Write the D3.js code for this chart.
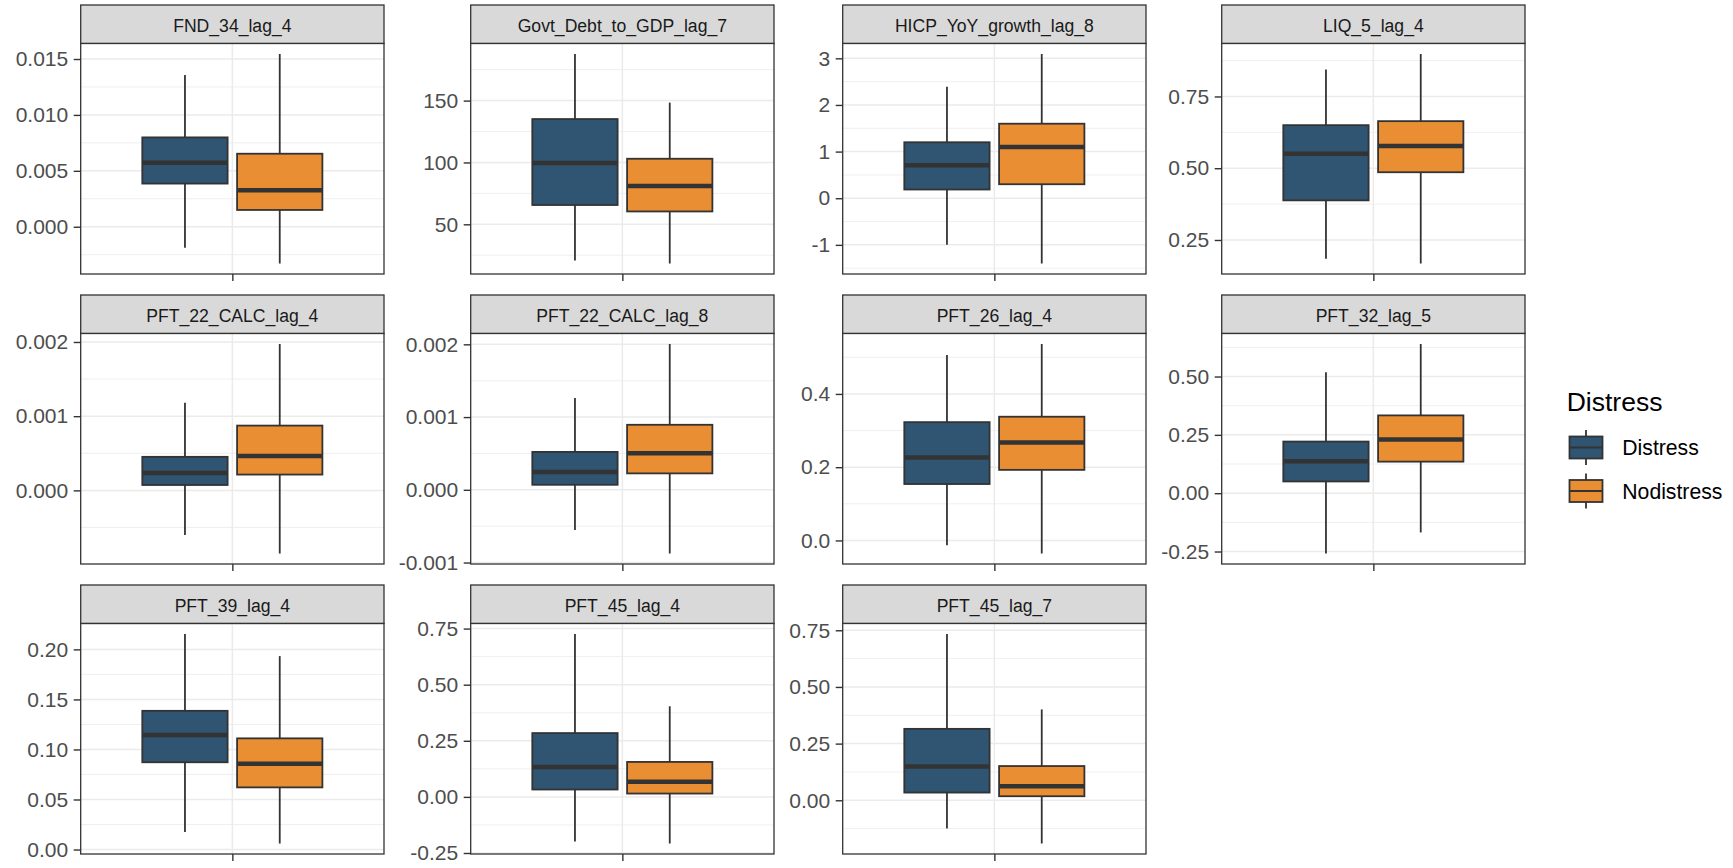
<!DOCTYPE html>
<html><head><meta charset="utf-8">
<script src="https://cdn.jsdelivr.net/npm/d3@7"></script>
<style>
html,body{margin:0;padding:0;background:#fff;}
svg{display:block;font-family:"Liberation Sans",Arial,sans-serif;}
</style></head><body>
<svg id="chart" width="1733" height="868"></svg>
<script>
// Facet titles, in panel order (4 columns, wrapped)
const panelNames = ["FND_34_lag_4","Govt_Debt_to_GDP_lag_7","HICP_YoY_growth_lag_8","LIQ_5_lag_4",
  "PFT_22_CALC_lag_4","PFT_22_CALC_lag_8","PFT_26_lag_4","PFT_32_lag_5",
  "PFT_39_lag_4","PFT_45_lag_4","PFT_45_lag_7"];
const groups = ["Distress","Nodistress"];
const groupColors = ["#2F5572","#E98E33"];

// Box statistics per panel: [lower whisker, Q1, median, Q3, upper whisker]
const distressStats = [
  [-0.00189, 0.00386, 0.00572, 0.00799, 0.01356],
  [20.7, 65.6, 99.5, 135.1, 187.7],
  [-1.0, 0.187, 0.706, 1.20, 2.39],
  [0.185, 0.388, 0.550, 0.650, 0.844],
  [-0.000602, 0.0000724, 0.000235, 0.000452, 0.00118],
  [-0.000553, 0.0000691, 0.000244, 0.000521, 0.001263],
  [-0.0128, 0.154, 0.2265, 0.323, 0.506],
  [-0.2586, 0.0503, 0.1366, 0.2212, 0.5187],
  [0.0174, 0.0872, 0.1144, 0.1386, 0.2154],
  [-0.1988, 0.0329, 0.133, 0.2844, 0.726],
  [-0.1243, 0.034, 0.1494, 0.3151, 0.7337]
];
const nodistressStats = [
  [-0.00329, 0.00150, 0.00326, 0.00653, 0.01545],
  [18.3, 60.4, 81.0, 103.0, 148.4],
  [-1.40, 0.30, 1.10, 1.598, 3.093],
  [0.168, 0.486, 0.577, 0.664, 0.898],
  [-0.000851, 0.000213, 0.000462, 0.000873, 0.001973],
  [-0.000876, 0.000226, 0.000502, 0.000894, 0.002005],
  [-0.0357, 0.1927, 0.2677, 0.3378, 0.5364],
  [-0.1683, 0.1352, 0.2299, 0.3334, 0.6395],
  [0.006, 0.0621, 0.0856, 0.1111, 0.1933],
  [-0.2078, 0.0149, 0.0673, 0.1558, 0.404],
  [-0.1908, 0.0178, 0.0621, 0.151, 0.4009]
];

// Y-axis tick labels for each panel
const tickLabels = [
  ["0.000","0.005","0.010","0.015"],
  ["50","100","150"],
  ["-1","0","1","2","3"],
  ["0.25","0.50","0.75"],
  ["0.000","0.001","0.002"],
  ["-0.001","0.000","0.001","0.002"],
  ["0.0","0.2","0.4"],
  ["-0.25","0.00","0.25","0.50"],
  ["0.00","0.05","0.10","0.15","0.20"],
  ["-0.25","0.00","0.25","0.50","0.75"],
  ["0.00","0.25","0.50","0.75"]
];

const svg = d3.select("#chart");
const colLeft = [80.7, 470.7, 842.7, 1221.7];
const rowTop = [5, 295, 585];
const panelW = 303.3, stripH = 38.5, panelH = 230.5;
const ink = "#333333", gridCol = "#EBEBEB";

panelNames.forEach((name, i) => {
  const c = i % 4, r = Math.floor(i / 4);
  const x0 = colLeft[c], top = rowTop[r];
  const stats = [distressStats[i], nodistressStats[i]];
  const [lo, hi] = d3.extent(stats.flat());
  const pad = (hi - lo) * 0.05;
  const y = d3.scaleLinear().domain([lo - pad, hi + pad]).range([panelH, 0]);
  const x = d3.scaleLinear().domain([0.4, 1.6]).range([0, panelW]);
  const dodge = d3.scaleBand().domain(groups).range([x(0.625), x(1.375)])
    .paddingInner(0.1).paddingOuter(0.05);

  // strip
  svg.append("rect").attr("x", x0).attr("y", top).attr("width", panelW).attr("height", stripH)
    .attr("fill", "#D9D9D9").attr("stroke", ink).attr("stroke-width", 1.3);
  svg.append("text").attr("x", x0 + panelW / 2).attr("y", top + 27.3)
    .attr("text-anchor", "middle").attr("font-size", 17.6).attr("fill", "#1A1A1A").text(name);

  const g = svg.append("g").attr("transform", `translate(${x0},${top + stripH})`);
  g.append("rect").attr("width", panelW).attr("height", panelH).attr("fill", "#fff");

  // grid
  const vals = tickLabels[i].map(Number);
  const step = vals[1] - vals[0];
  const [dmin, dmax] = y.domain();
  const minor = [];
  for (let v = vals[0] - step / 2; v <= dmax; v += step) {
    const vr = +v.toPrecision(10);
    if (vr >= dmin) minor.push(vr);
  }
  g.selectAll(".minor").data(minor).join("line")
    .attr("x1", 0).attr("x2", panelW).attr("y1", d => y(d)).attr("y2", d => y(d))
    .attr("stroke", gridCol).attr("stroke-width", 0.8);
  g.selectAll(".major").data(vals).join("line")
    .attr("x1", 0).attr("x2", panelW).attr("y1", d => y(d)).attr("y2", d => y(d))
    .attr("stroke", gridCol).attr("stroke-width", 1.5);
  g.append("line").attr("x1", x(1)).attr("x2", x(1)).attr("y1", 0).attr("y2", panelH)
    .attr("stroke", gridCol).attr("stroke-width", 1.5);

  // boxes
  groups.forEach((grp, k) => {
    const s = stats[k];
    const bx = dodge(grp), bw = dodge.bandwidth(), cx = bx + bw / 2;
    const bg = g.append("g");
    bg.append("line").attr("x1", cx).attr("x2", cx).attr("y1", y(s[4])).attr("y2", y(s[3]))
      .attr("stroke", ink).attr("stroke-width", 1.8);
    bg.append("line").attr("x1", cx).attr("x2", cx).attr("y1", y(s[1])).attr("y2", y(s[0]))
      .attr("stroke", ink).attr("stroke-width", 1.8);
    bg.append("rect").attr("x", bx).attr("y", y(s[3])).attr("width", bw).attr("height", y(s[1]) - y(s[3]))
      .attr("fill", groupColors[k]).attr("stroke", ink).attr("stroke-width", 1.8);
    bg.append("line").attr("x1", bx).attr("x2", bx + bw).attr("y1", y(s[2])).attr("y2", y(s[2]))
      .attr("stroke", ink).attr("stroke-width", 4.5);
  });

  // border
  g.append("rect").attr("width", panelW).attr("height", panelH)
    .attr("fill", "none").attr("stroke", ink).attr("stroke-width", 1.3);

  // axes
  const ya = g.append("g").call(d3.axisLeft(y).tickValues(vals)
    .tickFormat((d, k) => tickLabels[i][k]).tickSize(7).tickPadding(5.5));
  ya.select(".domain").remove();
  ya.selectAll(".tick line").attr("stroke", ink).attr("stroke-width", 1.4);
  ya.selectAll(".tick text").attr("fill", "#4D4D4D").attr("font-size", 21)
    .attr("font-family", "Liberation Sans, Arial, sans-serif");

  const xa = g.append("g").attr("transform", `translate(0,${panelH})`)
    .call(d3.axisBottom(x).tickValues([1]).tickFormat("").tickSize(7));
  xa.select(".domain").remove();
  xa.selectAll(".tick line").attr("stroke", ink).attr("stroke-width", 1.4);
});

// legend
const lg = svg.append("g");
lg.append("text").attr("x", 1566.7).attr("y", 410.7).attr("font-size", 26.5).attr("fill", "#000").text("Distress");
const keySize = 44, keyX = 1564, keyTops = [425.5, 469];
groups.forEach((grp, k) => {
  const kt = keyTops[k], cx = keyX + keySize / 2;
  lg.append("line").attr("x1", cx).attr("x2", cx).attr("y1", kt + keySize * 0.1).attr("y2", kt + keySize * 0.9)
    .attr("stroke", ink).attr("stroke-width", 1.8);
  lg.append("rect").attr("x", keyX + keySize * 0.125).attr("y", kt + keySize * 0.25)
    .attr("width", keySize * 0.75).attr("height", keySize * 0.5)
    .attr("fill", groupColors[k]).attr("stroke", ink).attr("stroke-width", 1.8);
  lg.append("line").attr("x1", keyX + keySize * 0.125).attr("x2", keyX + keySize * 0.875)
    .attr("y1", kt + keySize / 2).attr("y2", kt + keySize / 2).attr("stroke", ink).attr("stroke-width", 1.8);
  lg.append("text").attr("x", 1622.3).attr("y", kt + keySize / 2 + 7.5)
    .attr("font-size", 21.2).attr("fill", "#000").text(grp);
});
</script>
</body></html>
